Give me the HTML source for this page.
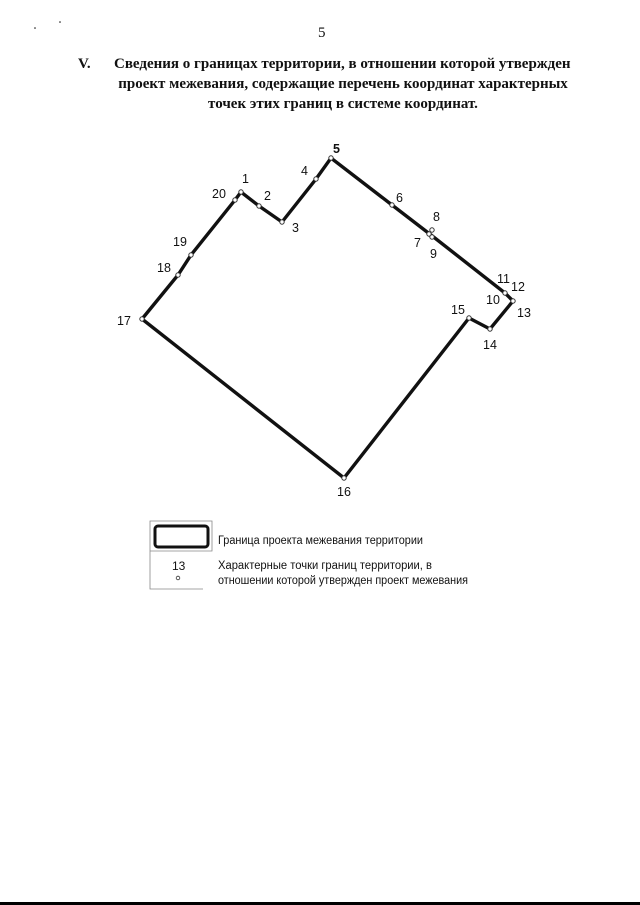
<!DOCTYPE html>
<html><head><meta charset="utf-8"><style>
html,body{margin:0;padding:0;background:#fff;}
body{width:640px;height:905px;position:relative;overflow:hidden;}
.t{position:absolute;font-family:"Liberation Serif","Noto Serif CJK SC",serif;font-weight:bold;font-size:15px;color:#111;white-space:nowrap;}
</style></head><body>
<div class="t" style="left:318px;top:25px;font-weight:normal;font-size:15px;">5</div>
<div class="t" style="left:78px;top:56px;">V.</div>
<div class="t" style="left:114px;top:56px;">Сведения о границах территории, в отношении которой утвержден</div>
<div class="t" style="left:114px;top:76px;width:458px;text-align:center;">проект межевания, содержащие перечень координат характерных</div>
<div class="t" style="left:114px;top:96px;width:458px;text-align:center;">точек этих границ в системе координат.</div>
<div style="position:absolute;left:0;top:902px;width:640px;height:3px;background:#000;"></div>
<svg width="640" height="905" style="position:absolute;left:0;top:0" font-family="Liberation Sans, sans-serif" font-size="12.5" fill="#111">
<polygon points="142,319 178,275 191,255 235,200 241,192 259,206 282,222 316,179 331,158 392,205 431,235 505,293 513,301 490,329 469,318 344,478" fill="none" stroke="#111" stroke-width="3.4" stroke-linejoin="miter"/>
<g fill="#fff" stroke="#333" stroke-width="1">
<circle cx="142" cy="319" r="2.2"/><circle cx="178" cy="275" r="2.2"/><circle cx="191" cy="255" r="2.2"/><circle cx="235" cy="200" r="2.2"/><circle cx="241" cy="192" r="2.2"/><circle cx="259" cy="206" r="2.2"/><circle cx="282" cy="222" r="2.2"/><circle cx="316" cy="179" r="2.2"/><circle cx="331" cy="158" r="2.2"/><circle cx="392" cy="205" r="2.2"/><circle cx="432" cy="230" r="2.2"/><circle cx="429" cy="234" r="2.2"/><circle cx="432" cy="237" r="2.2"/><circle cx="505" cy="293" r="2.2"/><circle cx="513" cy="301" r="2.2"/><circle cx="490" cy="329" r="2.2"/><circle cx="469" cy="318" r="2.2"/><circle cx="344" cy="478" r="2.2"/>
</g>
<text x="242" y="183">1</text><text x="264" y="200">2</text><text x="292" y="232">3</text><text x="301" y="175">4</text><text x="333" y="153" font-weight="bold">5</text><text x="396" y="202">6</text><text x="414" y="247">7</text><text x="433" y="221">8</text><text x="430" y="258">9</text><text x="486" y="304">10</text><text x="497" y="283">11</text><text x="511" y="291">12</text><text x="517" y="317">13</text><text x="483" y="349">14</text><text x="451" y="314">15</text><text x="337" y="496">16</text><text x="117" y="325">17</text><text x="157" y="272">18</text><text x="173" y="246">19</text><text x="212" y="198">20</text>
<rect x="155" y="526" width="53" height="21" rx="3" fill="none" stroke="#111" stroke-width="3"/>
<path d="M150,521 H212 V551 H150 Z M150,551 V589 H203" fill="none" stroke="#888" stroke-width="0.8"/>
<text x="172" y="570" font-size="12">13</text>
<circle cx="178" cy="578" r="1.8" fill="none" stroke="#333" stroke-width="0.8"/>
<g font-size="11.5">
<text x="218" y="544" textLength="205" lengthAdjust="spacingAndGlyphs">Граница проекта межевания территории</text>
<text x="218" y="569" textLength="214" lengthAdjust="spacingAndGlyphs">Характерные точки границ территории, в</text>
<text x="218" y="584" textLength="250" lengthAdjust="spacingAndGlyphs">отношении которой утвержден проект межевания</text>
</g>
<circle cx="35" cy="28" r="0.8"/><circle cx="60" cy="22" r="0.8"/>
</svg>
</body></html>
